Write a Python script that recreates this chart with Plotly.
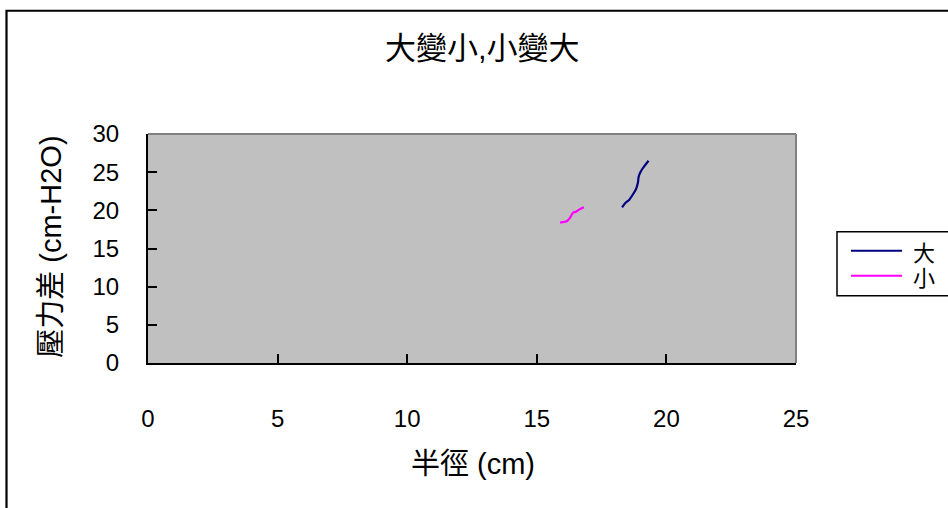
import plotly.graph_objects as go

# Data
series_names = ["大", "小"]
big_x = [18.29, 18.40, 18.57, 18.73, 18.83, 18.90, 18.93, 19.01, 19.15, 19.31]
big_y = [20.4, 20.9, 21.4, 22.2, 22.8, 23.6, 24.4, 25.1, 25.8, 26.5]
small_x = [15.90, 16.09, 16.17, 16.28, 16.40, 16.51, 16.63, 16.82]
small_y = [18.4, 18.5, 18.6, 19.0, 19.7, 19.8, 20.1, 20.4]
x_ticks = [0, 5, 10, 15, 20, 25]
y_ticks = [0, 5, 10, 15, 20, 25, 30]
colors = ["#000080", "#FF00FF"]

W, H = 948, 508
L, R, T, B = 148, 796, 134, 363.5
FONT = "Liberation Sans, Arial, Noto Sans CJK TC, sans-serif"

def px(x):
    return (x - L) / (R - L)

def py(y):
    return (B - y) / (B - T)

fig = go.Figure()
fig.add_trace(go.Scatter(x=big_x, y=big_y, mode="lines", name=series_names[0],
                         line=dict(color=colors[0], width=2.2, shape="spline", smoothing=0.6)))
fig.add_trace(go.Scatter(x=small_x, y=small_y, mode="lines", name=series_names[1],
                         line=dict(color=colors[1], width=2.2, shape="spline", smoothing=0.6)))

shapes = [
    dict(type="line", xref="paper", yref="paper", x0=0, x1=1, y0=1, y1=1,
         line=dict(color="#808080", width=2), layer="above"),
    dict(type="line", xref="paper", yref="paper", x0=1, x1=1, y0=0, y1=1,
         line=dict(color="#808080", width=2), layer="above"),
    dict(type="rect", xref="paper", yref="paper", x0=px(6.5), x1=px(960), y0=py(520), y1=py(10.5),
         line=dict(color="black", width=2.2), fillcolor="rgba(0,0,0,0)"),
    dict(type="rect", xref="paper", yref="paper", x0=px(837), x1=px(970), y0=py(296), y1=py(232),
         line=dict(color="black", width=1.5), fillcolor="white"),
]
annotations = [
    dict(text="大變小,小變大", x=px(482), y=py(48), xref="paper", yref="paper",
         showarrow=False, font=dict(size=31, color="black", family=FONT),
         xanchor="center", yanchor="middle"),
    dict(text="半徑 (cm)", x=px(473), y=py(465), xref="paper", yref="paper",
         showarrow=False, font=dict(size=29, color="black", family=FONT),
         xanchor="center", yanchor="middle"),
    dict(text="壓力差 (cm-H2O)", x=px(51), y=py(247), xref="paper", yref="paper",
         showarrow=False, textangle=-90, font=dict(size=29, color="black", family=FONT),
         xanchor="center", yanchor="middle"),
]
leg_y = [251, 276]
for name, col, ly in zip(series_names, colors, leg_y):
    shapes.append(dict(type="line", xref="paper", yref="paper", x0=px(851), x1=px(902),
                       y0=py(ly), y1=py(ly), line=dict(color=col, width=2)))
    annotations.append(dict(text=name, x=px(911), y=py(ly + 3), xref="paper", yref="paper",
                            showarrow=False, xanchor="left", yanchor="middle",
                            font=dict(size=22, color="black", family=FONT)))

fig.update_layout(
    width=W, height=H,
    margin=dict(l=L, r=W - R, t=T, b=H - B, pad=0),
    paper_bgcolor="white", plot_bgcolor="#C0C0C0",
    showlegend=False,
    font=dict(family=FONT, color="black"),
    shapes=shapes, annotations=annotations,
    xaxis=dict(range=[0, 25], tickvals=x_ticks, ticktext=[str(v) for v in x_ticks],
               showgrid=False, zeroline=False, showline=True, linecolor="black", linewidth=2,
               ticks="inside", ticklen=9, tickwidth=1.5, tickcolor="black",
               ticklabelstandoff=33, tickfont=dict(size=24, family=FONT)),
    yaxis=dict(range=[0, 30], tickvals=y_ticks, ticktext=[str(v) for v in y_ticks],
               showgrid=False, zeroline=False, showline=True, linecolor="black", linewidth=2,
               ticks="inside", ticklen=9, tickwidth=1.5, tickcolor="black",
               ticklabelstandoff=22, tickfont=dict(size=24, family=FONT)),
)

fig.write_html("out.html", config={"displayModeBar": False},
               post_script="document.body.style.margin='0';document.body.style.overflow='hidden';")
